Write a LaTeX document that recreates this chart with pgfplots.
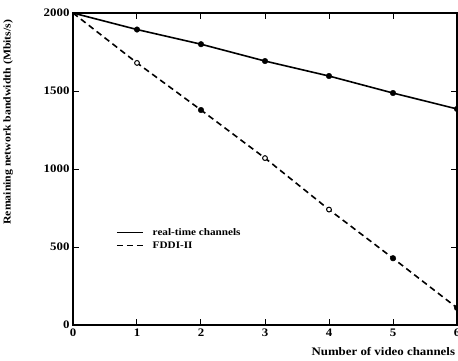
\documentclass[border=0pt]{standalone}
\usepackage{fontspec}
\setmainfont{Liberation Serif}[FakeStretch=1.12]
\usepackage{pgfplots}
\pgfplotsset{compat=1.18}
\begin{document}
\begin{tikzpicture}
\begin{axis}[
  scale only axis, width=384pt, height=312pt,
  xmin=0, xmax=6, ymin=0, ymax=2000,
  xtick={0,1,2,3,4,5,6}, ytick={0,500,1000,1500,2000},
  tick align=inside, major tick length=6pt,
  axis line style={line width=2pt},
  every tick/.style={line width=1pt, black},
  /pgf/number format/assume math mode=true,
  /pgf/number format/1000 sep={},
  scaled ticks=false,
  ticklabel style={font=\bfseries\fontsize{11.5}{13}\selectfont},
  ylabel={Remaining network bandwidth (Mbits/s)},
  ylabel style={at={(axis description cs:-0.169,0.65)}, anchor=center, font=\bfseries\fontsize{10.5}{12}\selectfont},
  xlabel={Number of video channels},
  xlabel style={at={(axis description cs:0.612,0)}, anchor=west, yshift=-27pt, font=\bfseries\fontsize{11.5}{13}\selectfont},
  legend style={at={(axis description cs:0.104,0.324)}, anchor=north west, draw=none, fill=none,
    font=\bfseries\fontsize{10}{12}\selectfont, row sep=1pt},
  legend cell align=left,
  legend image code/.code={\draw[#1] (0pt,0pt) -- (26pt,0pt); \path (33pt,0pt);},
]
\addplot[black, line width=1.6pt] coordinates {(0,2000) (1,1894) (2,1800) (3,1692) (4,1596) (5,1487) (6,1385)};
\addlegendentry{real-time channels}
\addplot[black, line width=1.6pt, dash pattern=on 6pt off 4pt] coordinates {(0,2000) (1,1680) (2,1378) (3,1070) (4,740) (5,428) (6,110)};
\addlegendentry{FDDI-II}
\addplot[only marks, mark=*, mark size=2.8pt, black, forget plot] coordinates {(1,1894) (2,1800) (3,1692) (4,1596) (5,1487) (6,1385)};
\addplot[only marks, mark=*, mark size=2.8pt, black, forget plot] coordinates {(2,1378) (5,428) (6,110)};
\addplot[only marks, mark=*, mark size=2.4pt, black, fill=white, line width=1pt, forget plot] coordinates {(1,1680) (3,1070) (4,740)};
\end{axis}
\pgfresetboundingbox
\path[use as bounding box] (-73pt,-35pt) rectangle (385pt,325pt);
\end{tikzpicture}
\end{document}
